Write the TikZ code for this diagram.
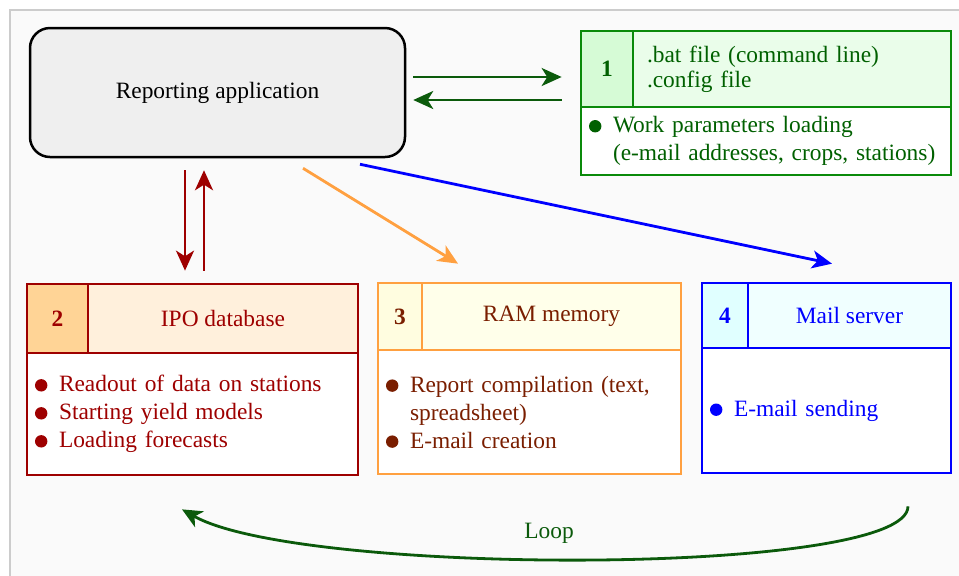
\documentclass[tikz,border=0pt]{standalone}
\usepackage{fontspec}
\setmainfont{Liberation Serif}
\usetikzlibrary{arrows.meta}

\definecolor{panelgray}{HTML}{FAFAFA}
\definecolor{panelline}{HTML}{CCCCCC}
\definecolor{appfill}{HTML}{EFEFEF}
\definecolor{cfgline}{HTML}{0A8A0A}
\definecolor{cfgtext}{HTML}{006000}
\definecolor{cfgnumfill}{HTML}{D6FBD6}
\definecolor{cfgheadfill}{HTML}{EAFDEA}
\definecolor{cfgarrow}{HTML}{0B5A0B}
\definecolor{dbline}{HTML}{9E0000}
\definecolor{dbnumfill}{HTML}{FFD496}
\definecolor{dbheadfill}{HTML}{FFF0DC}
\definecolor{ramline}{HTML}{FFA040}
\definecolor{ramtext}{HTML}{7A1E00}
\definecolor{ramnumfill}{HTML}{FFFDE0}
\definecolor{ramheadfill}{HTML}{FFFFEA}
\definecolor{mailline}{HTML}{0000FF}
\definecolor{mailnumfill}{HTML}{E0FFFF}
\definecolor{mailheadfill}{HTML}{F0FFFF}

\newcommand{\bul}{\makebox[12pt][l]{\tikz[baseline=0pt,x=1pt,y=1pt]\fill (3.2,3.2) circle [radius=3.1];}}

\begin{document}
\begin{tikzpicture}[x=0.5pt,y=-0.5pt]
	\tikzstyle{every node}=[font=\fontsize{11.7}{14}\selectfont]
	\tikzstyle{cell}=[draw, line width=1.35pt, inner sep=0pt]
	\tikzstyle{bodycell}=[cell, fill=white, align=left, inner xsep=4pt]
	\tikzstyle{link}=[line width=1.4pt, -{Stealth[length=10pt,width=9pt,inset=2.8pt]}]

	%% frame
	\useasboundingbox (0,0) rectangle (959,575);
	\fill [white] (0,0) rectangle (959,575);
	\draw [panelline, fill=panelgray, line width=0.6pt] (10,10) rectangle (980,600);

	%% reporting application
	\node [draw, line width=1.25pt, fill=appfill, rounded corners=10pt, minimum width=187.5pt, minimum height=64.5pt]  (app) at (217.5,92.5)  {Reporting application};

	%% 1 : config
	\node [cell, draw=cfgline, fill=cfgnumfill, text=cfgtext, minimum width=26pt, minimum height=38pt]  (cfgnum) at (607,69)  {\textbf{1}};
	\node [cell, draw=cfgline, fill=cfgheadfill, text=cfgtext, minimum width=159pt, minimum height=38pt, text width=145pt, align=left, font=\fontsize{11.7}{12.5}\selectfont]  (cfghead) at (792,69)  {.bat file (command line)\\.config file};
	\node [bodycell, draw=cfgline, text=cfgtext, minimum width=185pt, minimum height=34pt, text width=177pt]  (cfgbody) at (766,141)  {\bul Work parameters loading\\\hspace*{12pt}(e-mail addresses, crops, stations)};

	%% 2 : database
	\node [cell, draw=dbline, fill=dbnumfill, text=dbline, minimum width=30.5pt, minimum height=34.5pt]  (dbnum) at (57.5,318.5)  {\textbf{2}};
	\node [cell, draw=dbline, fill=dbheadfill, text=dbline, minimum width=135pt, minimum height=34.5pt]  (dbhead) at (223,318.5)  {IPO database};
	\node [bodycell, draw=dbline, text=dbline, minimum width=165.5pt, minimum height=61pt, text width=157.5pt]  (dbbody) at (192.5,414)  {\bul Readout of data on stations\\\bul Starting yield models\\\bul Loading forecasts};

	%% 3 : memory
	\node [cell, draw=ramline, fill=ramnumfill, text=ramtext, minimum width=22pt, minimum height=33.5pt]  (ramnum) at (400,316.5)  {\textbf{3}};
	\node [cell, draw=ramline, fill=ramheadfill, text=ramtext, minimum width=129.5pt, minimum height=33.5pt]  (ramhead) at (551.5,316.5)  {RAM memory};
	\node [bodycell, draw=ramline, text=ramtext, minimum width=151.5pt, minimum height=62pt, text width=143.5pt]  (rambody) at (529.5,412)  {\bul Report compilation (text,\\\hspace*{12pt}spreadsheet)\\\bul E-mail creation};

	%% 4 : mail server
	\node [cell, draw=mailline, fill=mailnumfill, text=mailline, minimum width=23pt, minimum height=32.5pt]  (mailnum) at (725,315.5)  {\textbf{4}};
	\node [cell, draw=mailline, fill=mailheadfill, text=mailline, minimum width=101.5pt, minimum height=32.5pt]  (mailhead) at (849.5,315.5)  {Mail server};
	\node [bodycell, draw=mailline, text=mailline, minimum width=124.5pt, minimum height=62.5pt, text width=116.5pt]  (mailbody) at (826.5,410.5)  {\bul E-mail sending};

	%% arrows
	\draw [link, cfgarrow, shorten <=3.5pt, shorten >=9pt]  ([yshift=7.75pt]app.east) -- ([yshift=7.75pt]app.east -| cfgnum.west);
	\draw [link, cfgarrow, shorten <=9pt, shorten >=3.5pt]  ([yshift=-3.75pt]app.east -| cfgnum.west) -- ([yshift=-3.75pt]app.east);
	\draw [link, dbline, shorten <=6pt, shorten >=6pt]  ([xshift=-16.25pt]app.south) -- ([xshift=-16.25pt]app.south |- dbhead.north);
	\draw [link, dbline, shorten <=6pt, shorten >=6pt]  ([xshift=-6.75pt]app.south |- dbhead.north) -- ([xshift=-6.75pt]app.south);
	\draw [link, ramline]  ([xshift=42.75pt,yshift=-5pt]app.south) -- ([xshift=-46.75pt,yshift=9pt]ramhead.north);
	\draw [link, mailline]  ([xshift=71.25pt,yshift=-3pt]app.south) -- ([xshift=-8.75pt,yshift=9pt]mailhead.north);

	%% loop
	\draw [link, cfgarrow]  ([xshift=40.75pt,yshift=-16pt]mailbody.south) .. controls +(0,-35pt) and +(59pt,-33.5pt) .. ([xshift=-5.25pt,yshift=-16.5pt]dbbody.south)
		node [pos=0.54, above=7pt, inner sep=0pt, text=cfgarrow]  (loop) {Loop};

\end{tikzpicture}
\end{document}
